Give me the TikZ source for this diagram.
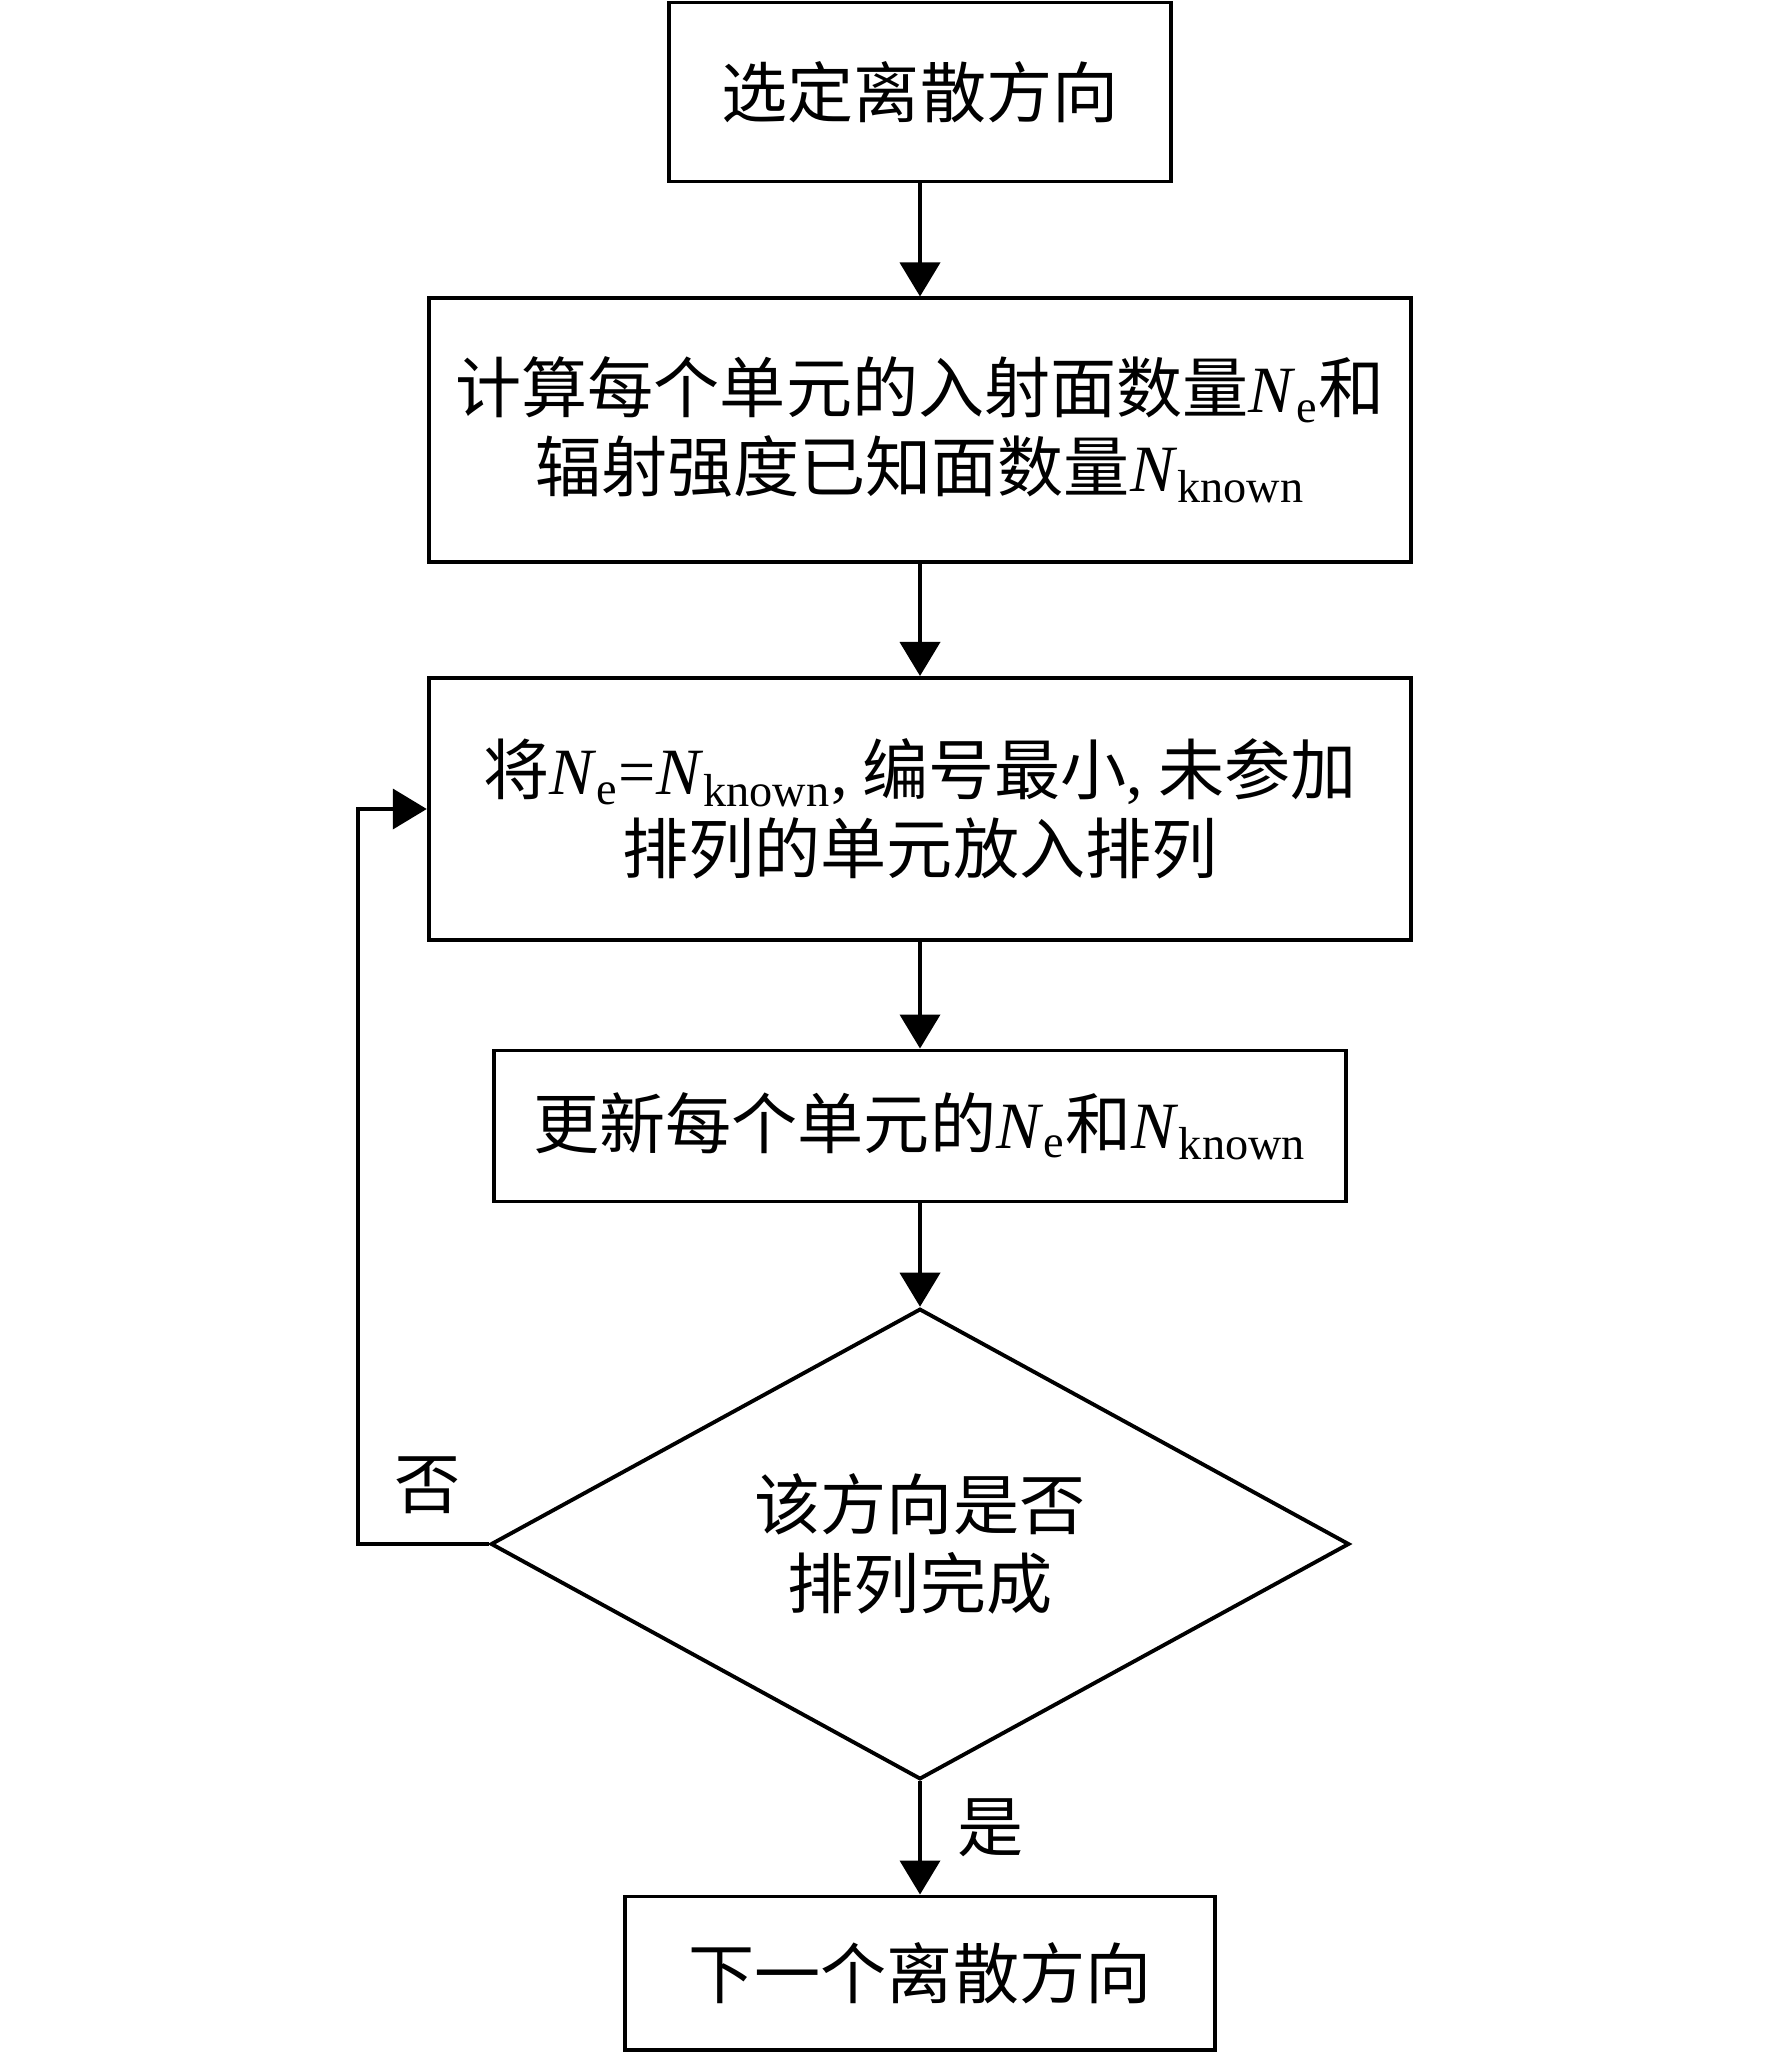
\documentclass[tikz,border=0pt]{standalone}
\usepackage{fontspec}
\setmainfont{Liberation Serif}
\newfontfamily\cjk{Noto Sans CJK SC}
\usepackage{tikz}
\usetikzlibrary{shapes.geometric,arrows.meta}
\newcommand{\Nsub}[1]{{\rmfamily\textit{N}\textsubscript{#1}}}

\begin{document}
\begin{tikzpicture}
  [x=0.01cm, y=-0.01cm,
   box/.style={rectangle, draw, line width=1.1pt, inner sep=0pt, align=center,
     font=\cjk\fontsize{18.8}{22.3}\selectfont},
   decision/.style={diamond, draw, line width=1.1pt, inner sep=0pt, align=center,
     minimum width=8.58cm, minimum height=4.58cm,
     font=\cjk\fontsize{18.8}{22.3}\selectfont},
   label/.style={font=\cjk\fontsize{18.8}{22.3}\selectfont},
   towards/.style={-{Triangle[length=0.34cm,width=0.4cm]}, line width=1.1pt},
  ]
  \useasboundingbox (0,0) rectangle (1772,2052);

  \node[box, minimum width=5.02cm, minimum height=1.79cm] (n0) at (920,92) {选定离散方向};
  \node[box, minimum width=9.82cm, minimum height=2.63cm] (n1) at (920,430)
    {计算每个单元的入射面数量\Nsub{e}和\\辐射强度已知面数量\Nsub{known}};
  \node[box, minimum width=9.82cm, minimum height=2.62cm] (n2) at (920,809)
    {将\Nsub{e}{\rmfamily=}\Nsub{known}{\rmfamily,} 编号最小{\rmfamily,} 未参加\\排列的单元放入排列};
  \node[box, minimum width=8.52cm, minimum height=1.51cm] (n3) at (920,1126)
    {更新每个单元的\Nsub{e}和\Nsub{known}};
  \node[decision] (n4) at (920,1544) {该方向是否\\排列完成};
  \node[box, minimum width=5.90cm, minimum height=1.53cm] (n5) at (920,1973) {下一个离散方向};

  \path (n0) edge[towards] (n1)
        (n1) edge[towards] (n2)
        (n2) edge[towards] (n3)
        (n3) edge[towards] (n4)
        (n4) edge[towards] (n5);
  \draw[towards] (n4.west) -- ++(-131,0) |- (n2.west);

  \node[label] (no) at (428,1485) {否};
  \node[label] (yes) at (991,1828) {是};
\end{tikzpicture}
\end{document}
